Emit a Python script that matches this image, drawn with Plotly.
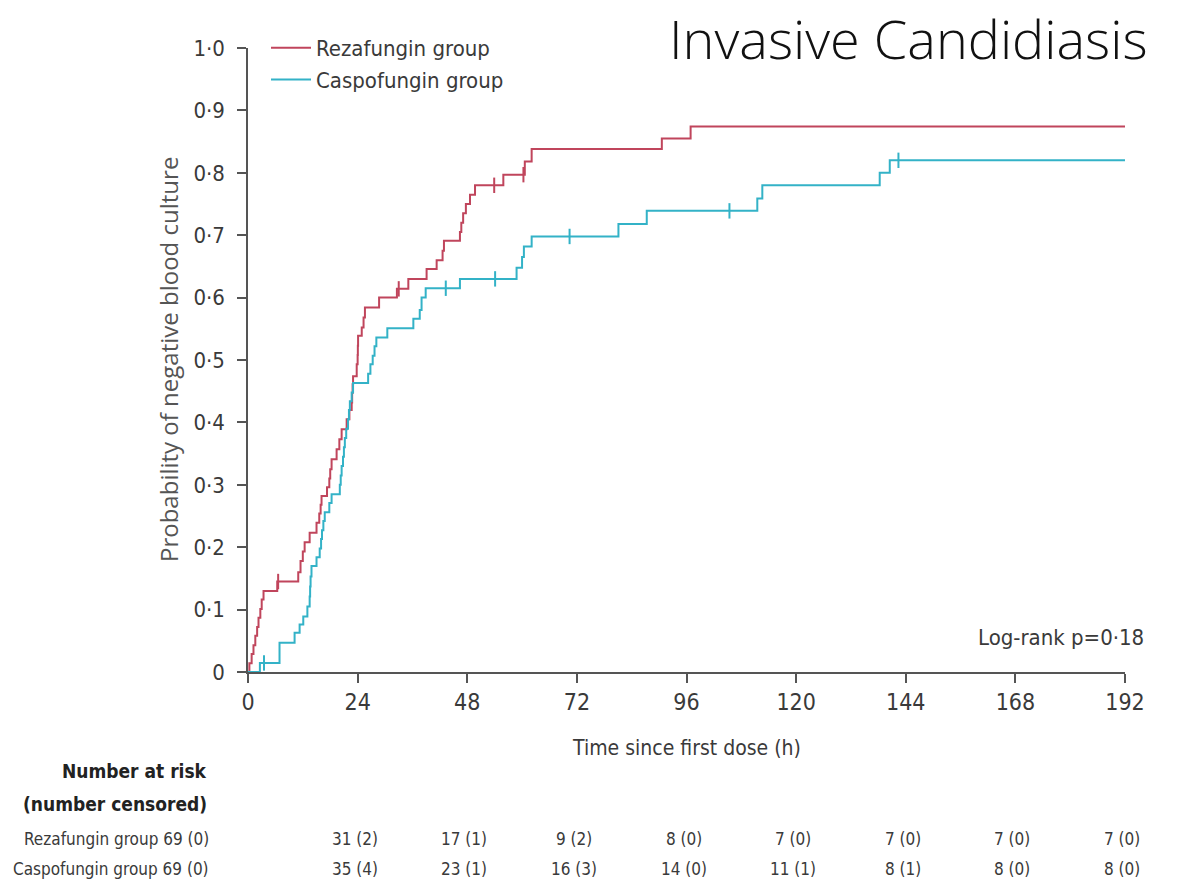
import plotly.graph_objects as go

# ---------------- data ----------------
reza_t = [0, 0.3, 0.8, 1.2, 1.6, 2.0, 2.3, 2.7, 3.0, 3.4, 6.4, 11.0, 11.5, 12.0, 12.4, 13.5, 15.0,
          15.6, 15.9, 16.1, 17.3, 17.8, 18.0, 18.3, 19.4, 20.0, 20.5, 21.6, 22.2, 22.7, 22.8, 22.9,
          23.0, 23.8, 24.0, 24.05, 24.1, 24.9, 25.3, 25.6, 28.7, 32.6, 35.1, 39.1, 41.3, 42.6, 42.9,
          46.4, 46.7, 47.1, 47.7, 48.6, 49.7, 55.9, 60.6, 62.1, 90.6, 96.9, 192]
reza_p = [0, 0.014, 0.029, 0.043, 0.058, 0.072, 0.087, 0.101, 0.116, 0.130, 0.145, 0.160, 0.178,
          0.193, 0.208, 0.223, 0.239, 0.254, 0.268, 0.282, 0.296, 0.310, 0.325, 0.341, 0.357, 0.373,
          0.389, 0.405, 0.420, 0.432, 0.447, 0.461, 0.474, 0.493, 0.508, 0.523, 0.539, 0.552, 0.568,
          0.584, 0.600, 0.614, 0.630, 0.646, 0.660, 0.675, 0.691, 0.705, 0.720, 0.735, 0.750, 0.765,
          0.780, 0.797, 0.818, 0.838, 0.855, 0.874, 0.874]
reza_cens_t = [6.6, 33.0, 53.9, 60.3]
reza_cens_p = [0.145, 0.614, 0.780, 0.797]

caspo_t = [0, 2.6, 6.9, 10.2, 11.3, 12.1, 13.0, 13.5, 13.6, 13.7, 13.9, 15.0, 15.7, 16.0, 16.2, 16.5,
           16.8, 17.8, 18.3, 20.1, 20.3, 20.5, 20.8, 21.0, 21.2, 21.5, 21.9, 22.1, 22.3, 22.7, 23.0,
           26.3, 26.8, 27.3, 27.7, 28.1, 30.5, 36.2, 37.6, 38.0, 38.9, 46.4, 58.8, 60.0, 60.4, 62.1,
           81.1, 87.3, 111.5, 112.6, 138.3, 140.5, 192]
caspo_p = [0, 0.0145, 0.047, 0.063, 0.076, 0.089, 0.105, 0.121, 0.137, 0.153, 0.170, 0.184, 0.198,
           0.213, 0.227, 0.242, 0.256, 0.271, 0.285, 0.300, 0.315, 0.330, 0.345, 0.360, 0.375, 0.390,
           0.405, 0.420, 0.434, 0.448, 0.463, 0.478, 0.493, 0.507, 0.522, 0.536, 0.551, 0.566, 0.580,
           0.600, 0.615, 0.630, 0.648, 0.665, 0.682, 0.698, 0.718, 0.739, 0.759, 0.780, 0.800, 0.820,
           0.820]
caspo_cens_t = [3.5, 43.3, 54.1, 70.4, 105.4, 142.4]
caspo_cens_p = [0.0145, 0.615, 0.630, 0.698, 0.739, 0.820]

x_ticks = [0, 24, 48, 72, 96, 120, 144, 168, 192]
y_ticks = [0, 0.1, 0.2, 0.3, 0.4, 0.5, 0.6, 0.7, 0.8, 0.9, 1.0]
y_ticktext = ["0", "0·1", "0·2", "0·3", "0·4", "0·5", "0·6", "0·7", "0·8", "0·9", "1·0"]

groups = ["Rezafungin group", "Caspofungin group"]
risk_reza = ["69 (0)", "31 (2)", "17 (1)", "9 (2)", "8 (0)", "7 (0)", "7 (0)", "7 (0)", "7 (0)"]
risk_caspo = ["69 (0)", "35 (4)", "23 (1)", "16 (3)", "14 (0)", "11 (1)", "8 (1)", "8 (0)", "8 (0)"]

title_text = "Invasive Candidiasis"
y_title = "Probability of negative blood culture"
x_title = "Time since first dose (h)"
pval_text = "Log-rank p=0·18"

# ---------------- style ----------------
RED = "#c0455c"
CYAN = "#33b2c7"
AX = "#555555"
TXT = "#3a3a3a"
NARROW = "Liberation Sans Narrow, DejaVu Sans Condensed, Arial Narrow, sans-serif"
COND = "DejaVu Sans Condensed, Liberation Sans Narrow, sans-serif"

fig = go.Figure()
fig.add_trace(go.Scatter(x=reza_t, y=reza_p, mode="lines", line=dict(color=RED, width=2, shape="hv"),
                         name=groups[0], cliponaxis=False))
fig.add_trace(go.Scatter(x=caspo_t, y=caspo_p, mode="lines", line=dict(color=CYAN, width=2, shape="hv"),
                         name=groups[1], cliponaxis=False))
fig.add_trace(go.Scatter(x=reza_cens_t, y=reza_cens_p, mode="markers", showlegend=False,
                         marker=dict(symbol="line-ns", size=11, line=dict(color=RED, width=2))))
fig.add_trace(go.Scatter(x=caspo_cens_t, y=caspo_cens_p, mode="markers", showlegend=False,
                         marker=dict(symbol="line-ns", size=11, line=dict(color=CYAN, width=2))))

L, R, T, B = 248, 53, 48, 216
W, H = 1178, 888
pw = W - L - R
ph = H - T - B


def px_to_paper_y(py):
    return (H - B - py) / ph


def px_to_paper_x(px):
    return (px - L) / pw


ann = []
ann.append(dict(text=title_text, xref="paper", yref="paper", x=px_to_paper_x(1150), y=px_to_paper_y(38),
                xanchor="right", yanchor="middle", showarrow=False,
                font=dict(family="Open Sans", size=54, color="#111111", weight=300)))
ann.append(dict(text=y_title, xref="paper", yref="paper", x=px_to_paper_x(168), y=0.5, textangle=-90,
                xanchor="center", yanchor="middle", showarrow=False,
                font=dict(family="Open Sans", size=24, color="#555555")))
ann.append(dict(text=x_title, xref="x", yref="paper", x=96, y=px_to_paper_y(748),
                xanchor="center", yanchor="middle", showarrow=False,
                font=dict(family=NARROW, size=21, color=TXT)))
ann.append(dict(text=pval_text, xref="paper", yref="paper", x=px_to_paper_x(1146), y=px_to_paper_y(637),
                xanchor="right", yanchor="middle", showarrow=False,
                font=dict(family=NARROW, size=22, color=TXT)))
hdr_font = dict(family=COND, size=19, color="#222222")
ann.append(dict(text="<b>Number at risk</b>", xref="paper", yref="paper", x=px_to_paper_x(209),
                y=px_to_paper_y(771), xanchor="right", yanchor="middle", showarrow=False,
                font=hdr_font))
ann.append(dict(text="<b>(number censored)</b>", xref="paper", yref="paper", x=px_to_paper_x(209),
                y=px_to_paper_y(804), xanchor="right", yanchor="middle", showarrow=False,
                font=hdr_font))
row_font = dict(family=COND, size=17, color=TXT)
rows_y = [839, 869]
for g, vals, ry in zip(groups, [risk_reza, risk_caspo], rows_y):
    ann.append(dict(text=g + " " + vals[0], xref="paper", yref="paper", x=px_to_paper_x(211),
                    y=px_to_paper_y(ry), xanchor="right", yanchor="middle", showarrow=False,
                    font=row_font))
    for t, v in zip(x_ticks[1:], vals[1:]):
        ann.append(dict(text=v, xref="x", yref="paper", x=t, y=px_to_paper_y(ry), xshift=-3,
                        xanchor="center", yanchor="middle", showarrow=False,
                        font=row_font))

fig.update_layout(
    width=W, height=H,
    margin=dict(l=L, r=R, t=T, b=B, autoexpand=False),
    paper_bgcolor="white", plot_bgcolor="white",
    showlegend=True,
    legend=dict(x=px_to_paper_x(266), y=px_to_paper_y(27), xanchor="left", yanchor="top",
                bgcolor="rgba(0,0,0,0)", font=dict(family=NARROW, size=22, color=TXT),
                itemwidth=40, tracegroupgap=0),
    annotations=ann,
)
fig.update_xaxes(range=[0, 192], tickvals=x_ticks, ticks="outside", ticklen=9, tickwidth=1.5,
                 tickcolor=AX, showline=True, linecolor=AX, linewidth=1.5, showgrid=False,
                 zeroline=False, tickfont=dict(family=NARROW, size=23, color=TXT), fixedrange=True)
fig.update_yaxes(range=[0, 1], tickvals=y_ticks, ticktext=y_ticktext, ticks="outside", ticklen=9,
                 tickwidth=1.5, tickcolor=AX, showline=True, linecolor=AX, linewidth=1.5,
                 showgrid=False, zeroline=False, tickfont=dict(family=NARROW, size=22, color=TXT),
                 ticklabelstandoff=8, fixedrange=True)

fig.write_html("out.html")
